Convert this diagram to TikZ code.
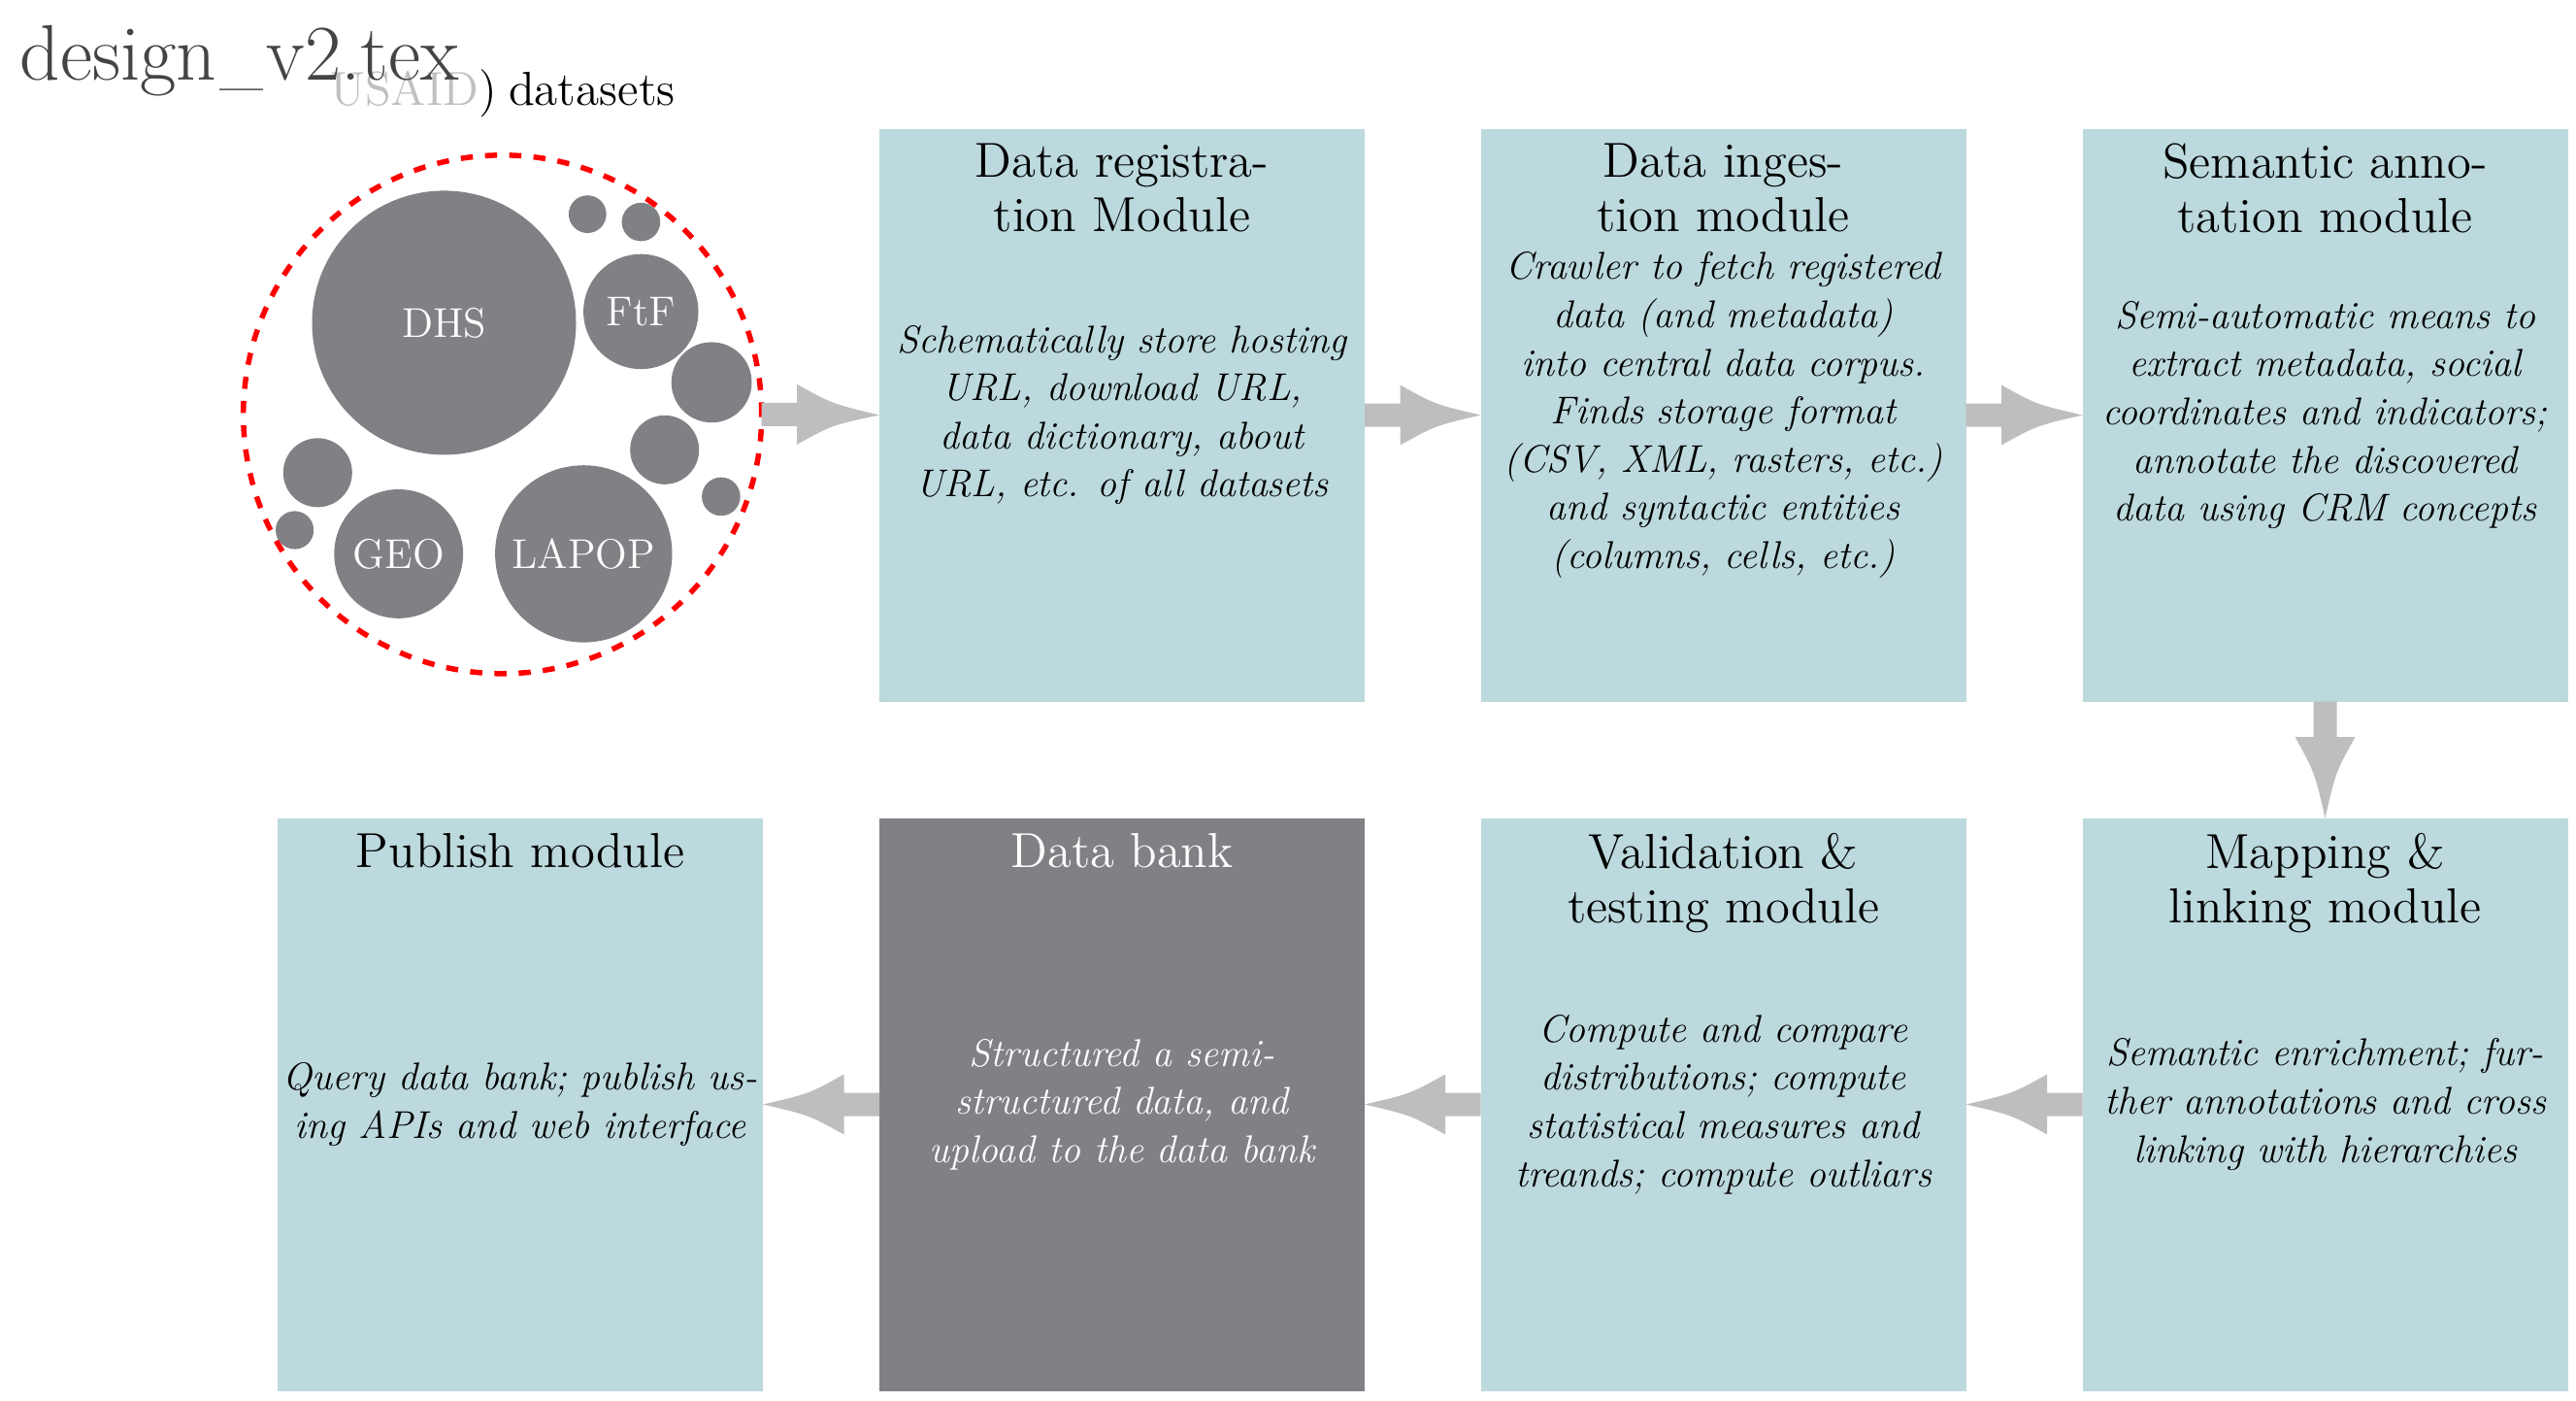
\documentclass[tikz,border=0pt]{standalone}
\usepackage{xcolor}
\usepackage{graphicx}
\definecolor{modfill}{RGB}{188,217,221}
\definecolor{bankfill}{RGB}{128,129,133}
\definecolor{flowfill}{RGB}{190,190,192}
\definecolor{titlegray}{RGB}{68,68,68}
\definecolor{faintgray}{RGB}{192,192,192}

% Fat flow arrow: shaft from anchor #1, concave head ending on anchor #2,
% pointing in direction #3 (degrees).
\newcommand\flowarrow[3]{%
  \begin{scope}[shift={(#1)},rotate=#3]
    \fill[flowfill] (0,0.12) -- (0.365,0.12) -- (0.365,0.31)
      .. controls (0.725,0.11) .. (#2)
      .. controls (0.725,-0.11) .. (0.365,-0.31)
      -- (0.365,-0.12) -- (0,-0.12) -- cycle;
  \end{scope}}

% short underscore for the file name
\newcommand\shortus{\kern0.04em\scalebox{0.8}[1]{\_}\kern0.04em}

\begin{document}
\begin{tikzpicture}[
  module/.style={rectangle, fill=modfill, minimum width=5cm, minimum height=5.9cm, inner sep=0pt, outer sep=0pt},
  bankbox/.style={module, fill=bankfill},
  headtext/.style={anchor=north, inner sep=0pt, align=center, font=\fontsize{14.4}{15.9}\selectfont},
  bodytext/.style={inner sep=0pt, align=center, font=\fontsize{11.35}{14.1}\selectfont\itshape},
  bubble/.style={circle, fill=bankfill, inner sep=0pt, outer sep=0pt, text=white, font=\fontsize{12.2}{14}\selectfont},
]
\useasboundingbox (0,0) rectangle (26.54,-14.42);

% heading and source label
\node[anchor=base, inner sep=0pt, font=\fontsize{14}{16}\selectfont] (src) at (5.18,-1.08)
  {\textcolor{faintgray}{USAID})\kern-0.08em{} datasets};
\node[anchor=base west, inner sep=0pt, text=titlegray, font=\fontsize{23.1}{27}\selectfont] (doc) at (0.2,-0.82)
  {design\shortus v2.tex};

% dataset bubbles
\node[bubble, minimum size=2.72cm]  (dhs)   at (4.575,-3.324) {DHS};
\node[bubble, minimum size=1.184cm] (ftf)   at (6.603,-3.209) {FtF};
\node[bubble, minimum size=0.388cm] (b1)    at (6.053,-2.206) {};
\node[bubble, minimum size=0.396cm] (b2)    at (6.604,-2.286) {};
\node[bubble, minimum size=0.828cm] (b3)    at (7.331,-3.938) {};
\node[bubble, minimum size=0.71cm]  (b4)    at (6.847,-4.633) {};
\node[bubble, minimum size=0.396cm] (b5)    at (7.429,-5.114) {};
\node[bubble, minimum size=1.824cm] (lapop) at (6.013,-5.704) {LAPOP};
\node[bubble, minimum size=1.328cm] (geo)   at (4.107,-5.704) {GEO};
\node[bubble, minimum size=0.71cm]  (b6)    at (3.273,-4.868) {};
\node[bubble, minimum size=0.392cm] (b7)    at (3.036,-5.460) {};
\node[circle, draw=red, line width=0.055cm, dash pattern=on 0.125cm off 0.125cm,
      minimum size=5.34cm, inner sep=0pt, outer sep=0pt] (pool) at (5.177,-4.268) {};

% module boxes
\node[module]  (reg)  at (11.56,-4.275)  {};
\node[module]  (ing)  at (17.755,-4.275) {};
\node[module]  (ann)  at (23.955,-4.275) {};
\node[module]  (pub)  at (5.36,-11.375)  {};
\node[bankbox] (bank) at (11.56,-11.375) {};
\node[module]  (val)  at (17.755,-11.375) {};
\node[module]  (map)  at (23.955,-11.375) {};

% titles
\node[headtext] (regT)  at ([yshift=-0.15cm]reg.north)  {Data registra-\\tion Module};
\node[headtext] (ingT)  at ([yshift=-0.15cm]ing.north)  {Data inges-\\tion module};
\node[headtext] (annT)  at ([yshift=-0.15cm]ann.north)  {Semantic anno-\\tation module};
\node[headtext] (pubT)  at ([yshift=-0.15cm]pub.north)  {Publish module};
\node[headtext, text=white] (bankT) at ([yshift=-0.15cm]bank.north) {Data bank};
\node[headtext] (valT)  at ([yshift=-0.15cm]val.north)  {Validation \&\\testing module};
\node[headtext] (mapT)  at ([yshift=-0.15cm]map.north)  {Mapping \&\\linking module};

% descriptions
\node[bodytext] (regB) at (reg.center) {Schematically store hosting\\URL, download URL,\\data dictionary, about\\URL, etc. of all datasets};
\node[bodytext] (ingB) at (ing.center) {Crawler to fetch registered\\data (and metadata)\\into central data corpus.\\Finds storage format\\(CSV, XML, rasters, etc.)\\and syntactic entities\\(columns, cells, etc.)};
\node[bodytext] (annB) at (ann.center) {Semi-automatic means to\\extract metadata, social\\coordinates and indicators;\\annotate the discovered\\data using CRM concepts};
\node[bodytext] (mapB) at (map.center) {Semantic enrichment; fur-\\ther annotations and cross\\linking with hierarchies};
\node[bodytext] (valB) at (val.center) {Compute and compare\\distributions; compute\\statistical measures and\\treands; compute outliars};
\node[bodytext, text=white] (bankB) at (bank.center) {Structured a semi-\\structured data, and\\upload to the data bank};
\node[bodytext] (pubB) at (pub.center) {Query data bank; publish us-\\ing APIs and web interface};

% flow
\flowarrow{pool.east}{reg.west}{0}
\flowarrow{reg.east}{ing.west}{0}
\flowarrow{ing.east}{ann.west}{0}
\flowarrow{ann.south}{map.north}{-90}
\flowarrow{map.west}{val.east}{180}
\flowarrow{val.west}{bank.east}{180}
\flowarrow{bank.west}{pub.east}{180}
\end{tikzpicture}
\end{document}
